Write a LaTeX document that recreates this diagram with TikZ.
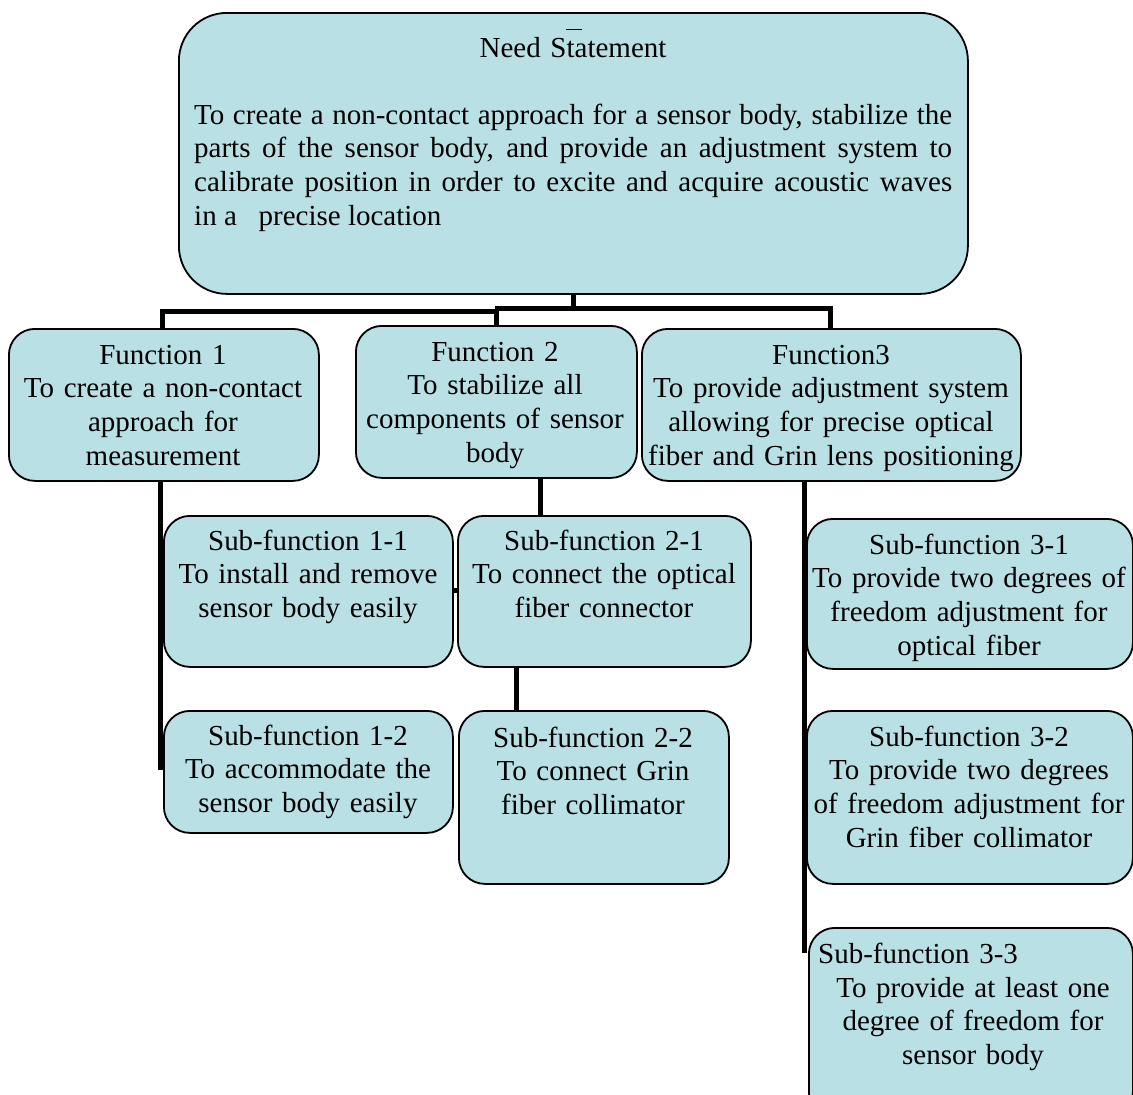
\documentclass[tikz,border=0pt]{standalone}
\usepackage{fontspec}
\setmainfont{Liberation Serif}
\usetikzlibrary{backgrounds}
\definecolor{boxfill}{RGB}{185,224,228}
\newcommand{\fullline}[1]{\leavevmode\hbox to 758pt{\spaceskip=0pt\xspaceskip=0pt #1}}
\newcommand{\natline}[1]{\leavevmode\hbox{\spaceskip=0pt\xspaceskip=0pt #1}}
\tikzset{
  box/.style={draw=black, line width=1.8pt, fill=boxfill, rounded corners=#1, anchor=north west, inner sep=0pt},
  box/.default=26pt,
  txt/.style={align=center, text width=#1, inner sep=0pt, anchor=base, font=\fontsize{29}{33.8}\selectfont},
  txt/.default=380pt,
  conn/.style={line width=5pt, black}
}
\begin{document}
\begin{tikzpicture}[x=1pt,y=-1pt]
\useasboundingbox (0,0) rectangle (1133,1095);
\clip (0,0) rectangle (1133,1095);
% boxes
\node[box=48pt, minimum width=789pt, minimum height=281pt] (need) at (178,12) {};
\node[box, minimum width=310pt, minimum height=152pt] (f1) at (8,328) {};
\node[box, minimum width=281pt, minimum height=152pt] (f2) at (355,325) {};
\node[box, minimum width=379pt, minimum height=152pt] (f3) at (641,328) {};
\node[box, minimum width=289pt, minimum height=151pt] (s11) at (163,515) {};
\node[box, minimum width=289pt, minimum height=122pt] (s12) at (163,710) {};
\node[box, minimum width=293pt, minimum height=151pt] (s21) at (457,515) {};
\node[box, minimum width=270pt, minimum height=173pt] (s22) at (458,710) {};
\node[box, minimum width=326pt, minimum height=150pt] (s31) at (806,518) {};
\node[box, minimum width=326pt, minimum height=173pt] (s32) at (806,710) {};
\node[box, minimum width=324pt, minimum height=190pt] (s33) at (808,927) {};
% connectors
\coordinate (b1) at (162,311);
\coordinate (bm) at (495,311);
\coordinate (bm2) at (495,308);
\coordinate (b3) at (830,308);
\coordinate (end1) at (160,770);
\coordinate (x2) at (540,0);
\coordinate (y590) at (0,590);
\coordinate (x22) at (516,0);
\coordinate (x3) at (804,0);
\coordinate (end3) at (804,953);
\begin{scope}[on background layer]
\draw[conn] (need.south) -- (need.south |- b1);
\draw[conn] (b1 |- f1.north) -- (b1) -- (bm);
\draw[conn] (bm2) -- (b3) -- (b3 |- f3.north);
\draw[conn] (f2.north) -- (f2.north |- b1);
\draw[conn] (end1 |- f1.south) -- (end1);
\draw[conn] (x2 |- f2.south) -- (x2 |- s21.north);
\draw[conn] (s11.east |- y590) -- (s21.west |- y590);
\draw[conn] (x22 |- s21.south) -- (x22 |- s22.north);
\draw[conn] (x3 |- f3.south) -- (end3);
\end{scope}
% texts
\draw[line width=0.6pt] (566,29) -- (582,29);
\node[txt] (needt) at (573,57) {Need Statement};
\node[txt=758pt, align=left, anchor=base west] (needb) at (194,124)
 {\fullline{To create a non-contact approach for a sensor body, stabilize the}\\
  \fullline{parts of the sensor body, and provide an adjustment system to}\\
  \fullline{calibrate position in order to excite and acquire acoustic waves}\\
  \natline{in a\ \ \ precise location}};
\node[txt] (f1t) at (163,364) {Function 1\\To create a non-contact\\approach for\\measurement};
\node[txt] (f2t) at (495,361) {Function 2\\To stabilize all\\components of sensor\\body};
\node[txt] (f3t) at (831,364) {Function3\\To provide adjustment system\\allowing for precise optical\\fiber and Grin lens positioning};
\node[txt] (s11t) at (308,550) {Sub-function 1-1\\To install and remove\\sensor body easily};
\node[txt] (s12t) at (308,745) {Sub-function 1-2\\To accommodate the\\sensor body easily};
\node[txt] (s21t) at (604,550) {Sub-function 2-1\\To connect the optical\\fiber connector};
\node[txt] (s22t) at (593,747) {Sub-function 2-2\\To connect Grin\\fiber collimator};
\node[txt] (s31t) at (969,554) {Sub-function 3-1\\To provide two degrees of\\freedom adjustment for\\optical fiber};
\node[txt] (s32t) at (969,746) {Sub-function 3-2\\To provide two degrees\\of freedom adjustment for\\Grin fiber collimator};
\node[txt=300pt, align=left, anchor=base west] (s33h) at (818,963) {Sub-function 3-3};
\node[txt] (s33t) at (973,997) {To provide at least one\\degree of freedom for\\sensor body};
\end{tikzpicture}
\end{document}
